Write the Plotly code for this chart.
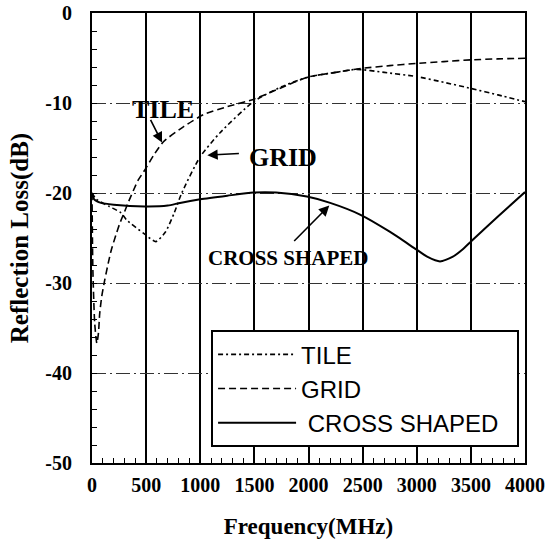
import plotly.graph_objects as go

# curves (frequency in MHz, reflection loss in dB)
tile_f = [0, 40, 160, 268, 320, 490, 590, 680, 760, 829, 998, 1183, 1491, 1750, 2000, 2250, 2445, 2700, 3000, 3250, 3508, 3750, 4000]
tile_db = [-20, -20.7, -21.5, -22.2, -23.0, -24.6, -25.4, -24.3, -22.2, -20.0, -16.0, -13.3, -9.85, -8.2, -7.1, -6.6, -6.26, -6.6, -7.07, -7.7, -8.4, -9.1, -9.85]

grid_f = [0, 8, 25, 45, 60, 71, 90, 117, 150, 179, 220, 256, 300, 333, 425, 490, 570, 660, 850, 1029, 1250, 1491, 1750, 1985, 2250, 2492, 2750, 3000, 3250, 3508, 3750, 4000]
grid_db = [-20, -28.5, -34.5, -36.7, -35.5, -33.4, -31.5, -29.7, -27.8, -26.3, -24.7, -23.4, -22.1, -21.1, -18.6, -17.4, -15.8, -14.3, -12.6, -11.3, -10.4, -9.6, -8.3, -7.15, -6.6, -6.15, -5.85, -5.6, -5.4, -5.2, -5.1, -5.03]

cross_f = [0, 20, 83, 200, 487, 700, 813, 1000, 1250, 1491, 1700, 1985, 2200, 2476, 2750, 2999, 3100, 3215, 3330, 3420, 3508, 3750, 4000]
cross_db = [-20, -20.7, -21.1, -21.3, -21.5, -21.4, -21.1, -20.7, -20.3, -19.95, -19.95, -20.4, -21.1, -22.4, -24.3, -26.3, -27.1, -27.6, -27.1, -26.3, -25.3, -22.6, -19.9]

x_ticks = [0, 500, 1000, 1500, 2000, 2500, 3000, 3500, 4000]
y_ticks = [0, -10, -20, -30, -40, -50]
y_labels = ["0", "-10", "-20", "-30", "-40", "-50"]

serif = "Liberation Serif, Times New Roman, serif"

fig = go.Figure()

fig.add_trace(go.Scatter(x=tile_f, y=tile_db, name="TILE", mode="lines",
                         line=dict(color="black", width=1.6, dash="5px,3px,2px,3px",
                                   shape="spline", smoothing=0.6)))
fig.add_trace(go.Scatter(x=grid_f, y=grid_db, name="GRID", mode="lines",
                         line=dict(color="black", width=1.6, dash="7px,4px",
                                   shape="spline", smoothing=0.6)))
fig.add_trace(go.Scatter(x=cross_f, y=cross_db, name="\u00a0CROSS SHAPED\u00a0\u00a0", mode="lines",
                         line=dict(color="black", width=2, shape="spline", smoothing=0.6)))

# labels inside the plot
fig.add_annotation(x=660, y=-10.7, text="<b>TILE</b>", showarrow=False,
                   font=dict(family=serif, size=26, color="black"))
fig.add_annotation(x=647, y=-14.4, ax=534, ay=-11.7, axref="x", ayref="y", text="",
                   showarrow=True, arrowhead=2, arrowsize=1.3, arrowwidth=1.6, arrowcolor="black")
fig.add_annotation(x=1764, y=-16.0, text="<b>GRID</b>", showarrow=False,
                   font=dict(family=serif, size=26, color="black"))
fig.add_annotation(x=1065, y=-15.8, ax=1371, ay=-15.6, axref="x", ayref="y", text="",
                   showarrow=True, arrowhead=2, arrowsize=1.3, arrowwidth=1.6, arrowcolor="black")
fig.add_annotation(x=1813, y=-27.2, text="<b>CROSS SHAPED</b>", showarrow=False,
                   font=dict(family=serif, size=21, color="black"))
fig.add_annotation(x=2192, y=-21.4, ax=1854, ay=-25.5, axref="x", ayref="y", text="",
                   showarrow=True, arrowhead=2, arrowsize=1.3, arrowwidth=1.6, arrowcolor="black")

fig.update_xaxes(range=[0, 4000], tickvals=x_ticks, automargin=False,
                 showline=True, mirror=True, linewidth=2, linecolor="black",
                 showgrid=True, gridcolor="black", gridwidth=1.5,
                 ticks="inside", ticklen=5, tickcolor="black", ticklabelstandoff=3,
                 ticklabeloverflow="allow",
                 minor=dict(dtick=100, ticks="inside", ticklen=5, tickcolor="black", showgrid=False),
                 tickfont=dict(family=serif, size=20, color="black", weight="bold"),
                 title=dict(text="<b>Frequency(MHz)</b>", standoff=23,
                            font=dict(family=serif, size=23, color="black")),
                 zeroline=False)
fig.update_yaxes(range=[-50, 0], tickvals=y_ticks, ticktext=y_labels, automargin=False,
                 showline=True, mirror=True, linewidth=2, linecolor="black",
                 showgrid=True, gridcolor="#333333", gridwidth=1, griddash="14px,4px,2px,4px",
                 ticks="inside", ticklen=5, tickcolor="black", ticklabelstandoff=14,
                 ticklabeloverflow="allow",
                 minor=dict(dtick=2, ticks="inside", ticklen=5, tickcolor="black", showgrid=False),
                 tickfont=dict(family=serif, size=20, color="black", weight="bold"),
                 title=dict(text="<b>Reflection Loss(dB)</b>", standoff=10,
                            font=dict(family=serif, size=25, color="black")),
                 zeroline=False)

fig.update_layout(
    width=550, height=542,
    margin=dict(l=92, r=25, t=13, b=79),
    plot_bgcolor="white", paper_bgcolor="white",
    legend=dict(x=0.275, y=0.295, xanchor="left", yanchor="top",
                bgcolor="white", bordercolor="black", borderwidth=2,
                itemwidth=78, tracegroupgap=0,
                font=dict(family="Liberation Sans, Arial, sans-serif", size=24, color="black")),
)

# drop the page's default body margin so the figure sits in the corner
fig.write_html("out.html", config={"displayModeBar": False},
               post_script="document.body.style.margin='0';")
